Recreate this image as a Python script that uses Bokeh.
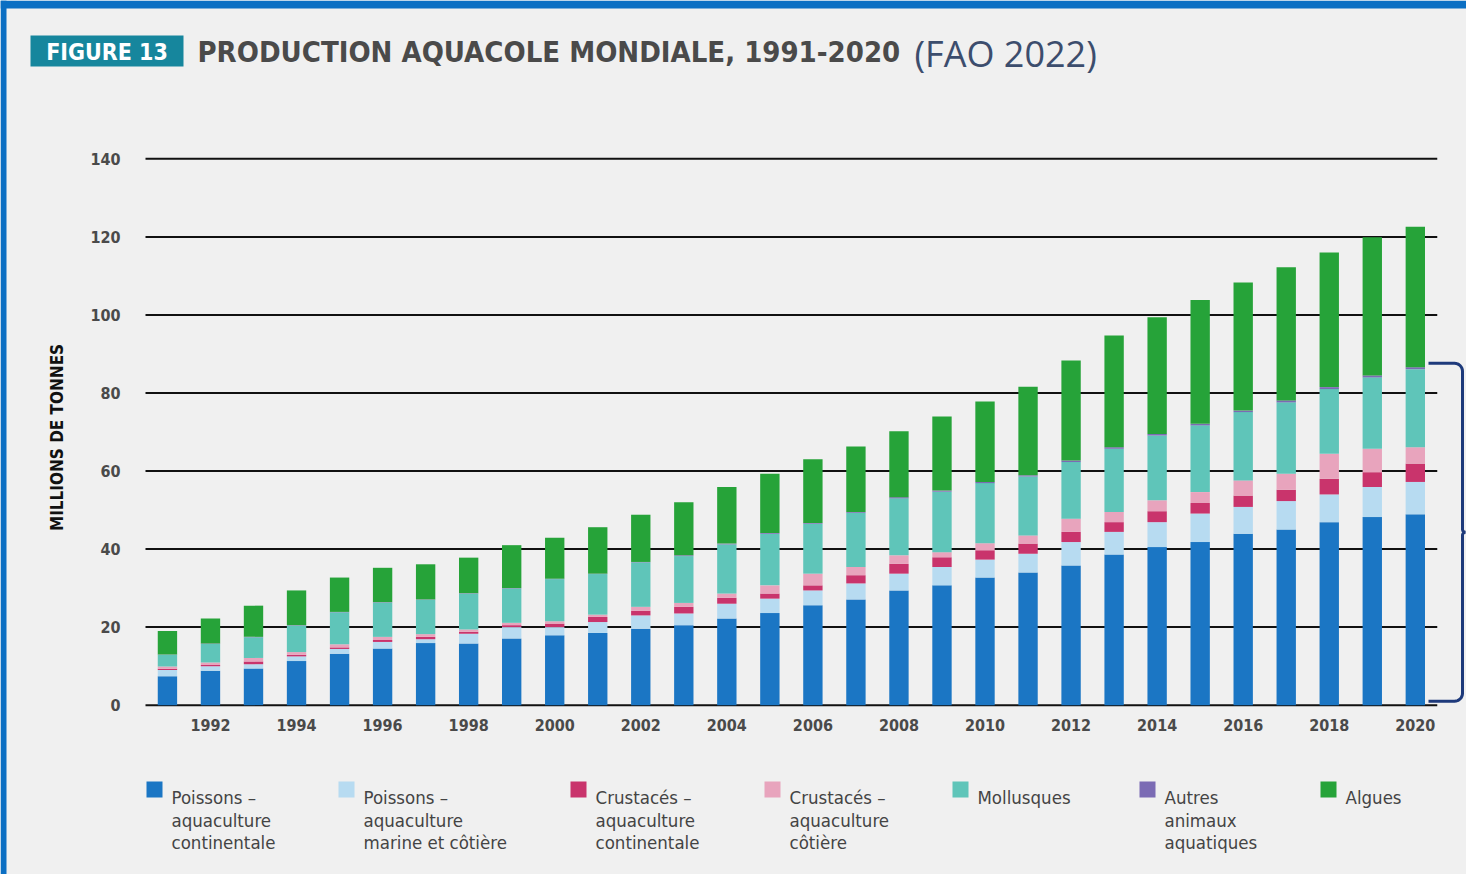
import math
from bokeh.plotting import figure
from bokeh.models import ColumnDataSource, FixedTicker, Range1d
from bokeh.core.properties import value
from bokeh.embed import file_html
from bokeh.resources import INLINE

# ---------------- data (millions de tonnes) ----------------
years = list(range(1991, 2021))
poissons_continentale = [7.4, 8.8, 9.4, 11.3, 13.2, 14.5, 15.9, 15.8, 17.1, 17.9, 18.5, 19.6, 20.5, 22.2, 23.6,
                         25.6, 27.1, 29.4, 30.7, 32.7, 34.0, 35.8, 38.6, 40.5, 41.8, 43.9, 45.0, 46.9, 48.2, 48.9]
poissons_marine = [1.6, 1.2, 1.1, 1.2, 1.2, 1.7, 1.0, 2.5, 2.9, 2.1, 2.8, 3.4, 3.0, 3.8, 3.7,
                   3.8, 4.1, 4.3, 4.7, 4.6, 4.8, 6.0, 5.8, 6.4, 7.3, 6.9, 7.3, 7.1, 7.7, 8.3]
crustaces_continentale = [0.3, 0.3, 0.7, 0.4, 0.4, 0.5, 0.6, 0.5, 0.5, 0.9, 1.3, 1.2, 1.7, 1.5, 1.3,
                          1.3, 2.1, 2.5, 2.5, 2.4, 2.6, 2.6, 2.5, 2.8, 2.7, 2.9, 2.9, 4.0, 3.8, 4.7]
crustaces_cotiere = [0.6, 0.6, 0.9, 0.7, 0.8, 0.8, 0.7, 0.6, 0.6, 0.6, 0.6, 1.0, 1.0, 1.1, 2.1,
                     3.0, 2.1, 2.2, 1.3, 1.8, 2.1, 3.4, 2.6, 2.8, 2.8, 3.9, 4.1, 6.4, 6.0, 4.2]
mollusques = [3.0, 4.8, 5.3, 6.8, 8.2, 8.8, 8.8, 9.2, 8.8, 10.8, 10.4, 11.4, 12.0, 12.6, 13.2,
              12.8, 13.9, 14.6, 15.5, 15.4, 15.1, 14.5, 16.2, 16.6, 17.1, 17.5, 18.3, 16.6, 18.3, 20.0]
autres_animaux = [0.1, 0.1, 0.1, 0.1, 0.1, 0.1, 0.1, 0.1, 0.1, 0.1, 0.1, 0.1, 0.2, 0.2, 0.2,
                  0.2, 0.2, 0.3, 0.3, 0.3, 0.3, 0.4, 0.4, 0.4, 0.4, 0.4, 0.5, 0.5, 0.5, 0.5]
algues = [6.0, 6.4, 8.0, 8.9, 8.8, 8.8, 9.0, 9.1, 11.0, 10.5, 11.9, 12.1, 13.6, 14.5, 15.2,
          16.3, 16.8, 16.9, 19.0, 20.6, 22.7, 25.6, 28.6, 29.9, 31.7, 32.8, 34.1, 34.5, 35.4, 36.0]

series_keys = ["pc", "pm", "cc", "ct", "mo", "au", "al"]
series_labels = [
    ["Poissons –", "aquaculture", "continentale"],
    ["Poissons –", "aquaculture", "marine et côtière"],
    ["Crustacés –", "aquaculture", "continentale"],
    ["Crustacés –", "aquaculture", "côtière"],
    ["Mollusques"],
    ["Autres", "animaux", "aquatiques"],
    ["Algues"],
]
colors = ["#1b76c4", "#b7dbf1", "#c9346c", "#e8a4bd", "#5fc5b9", "#7b6bb4", "#26a339"]
y_ticks = [0, 20, 40, 60, 80, 100, 120, 140]
x_ticks = list(range(1992, 2021, 2))
title_main = "PRODUCTION AQUACOLE MONDIALE, 1991-2020"
title_tag = "FIGURE 13"
title_src = "(FAO 2022)"
y_title = "MILLIONS DE TONNES"

src = ColumnDataSource(dict(year=years, pc=poissons_continentale, pm=poissons_marine,
                            cc=crustaces_continentale, ct=crustaces_cotiere, mo=mollusques,
                            au=autres_animaux, al=algues))

W, H = 1466, 874
BG = "#f0f0f0"
FONT = "DejaVu Sans Condensed"


# page-pixel helpers (layout only)
def X(px):
    return 1990.49 + (px - 145.0) / 43.03


def Y(py):
    return (704.66 - py) / 3.9023


p = figure(width=W, height=H, x_range=Range1d(X(0), X(W)), y_range=Range1d(Y(H), Y(0)),
           output_backend="svg", toolbar_location=None,
           min_border_left=0, min_border_right=0, min_border_top=0, min_border_bottom=0,
           background_fill_color=BG, border_fill_color=BG, outline_line_color=None)
p.grid.visible = False

# blue frame bands of the slide
p.quad(left=[X(0), X(0)], right=[X(W), X(6)], bottom=[Y(8), Y(H)], top=[Y(0), Y(0)],
       fill_color="#0b6fc3", line_color=None)

# horizontal gridlines, spanning the bar area only
x_start = years[0] - 0.51
x_end = years[-1] + 0.51
p.segment(x0=[x_start] * len(y_ticks), x1=[x_end] * len(y_ticks), y0=y_ticks, y1=y_ticks,
          line_color="#111111", line_width=2)

p.vbar_stack(series_keys, x="year", width=0.45, source=src, fill_color=colors, line_color=None)

# axes, pinned inside the full-page frame
p.yaxis.fixed_location = x_start
p.xaxis.fixed_location = -0.6
p.yaxis.ticker = FixedTicker(ticks=y_ticks)
p.xaxis.ticker = FixedTicker(ticks=x_ticks)
for ax in (p.xaxis, p.yaxis):
    ax.axis_line_color = None
    ax.major_tick_line_color = None
    ax.minor_tick_line_color = None
    ax.major_label_text_font = FONT
    ax.major_label_text_font_style = "bold"
    ax.major_label_text_font_size = "16px"
    ax.major_label_text_color = "#4a4a4a"
p.xaxis.major_label_standoff = 5
p.yaxis.major_label_standoff = 19
p.yaxis.axis_label = y_title
p.yaxis.axis_label_text_font = FONT
p.yaxis.axis_label_text_font_style = "bold"
p.yaxis.axis_label_text_font_size = "17px"
p.yaxis.axis_label_text_color = "#111111"
p.yaxis.axis_label_standoff = 20

# title
p.quad(left=[X(30)], right=[X(183)], bottom=[Y(66)], top=[Y(35)], fill_color="#16869d", line_color=None)
p.text(x=[X(106.5)], y=[Y(51)], text=[title_tag], text_color="white", text_font=value(FONT),
       text_font_style="bold", text_font_size=value("23px"), text_align="center", text_baseline="middle")
p.text(x=[X(197)], y=[Y(51)], text=[title_main], text_color="#4a4a4a", text_font=value(FONT),
       text_font_style="bold", text_font_size=value("29px"), text_baseline="middle")
p.text(x=[X(914)], y=[Y(53)], text=[title_src], text_color="#3c4d6d", text_font=value("Open Sans"),
       text_font_size=value("36px"), text_baseline="middle")

# legend
sq_x = [146, 338, 570, 764, 952, 1139, 1320]
p.quad(left=[X(s) for s in sq_x], right=[X(s + 16) for s in sq_x], bottom=[Y(797)] * len(sq_x),
       top=[Y(781)] * len(sq_x), fill_color=colors, line_color=None)
lx, ly, lt = [], [], []
for i in range(len(series_keys)):
    for j, line in enumerate(series_labels[i]):
        lx.append(X(sq_x[i] + 25))
        ly.append(Y(797 + 22.5 * j))
        lt.append(line)
p.text(x=lx, y=ly, text=lt, text_color="#444444", text_font=value(FONT),
       text_font_size=value("18.5px"), text_baseline="alphabetic")

# bracket around the animal production of the last year
animals_last = (poissons_continentale[-1] + poissons_marine[-1] + crustaces_continentale[-1]
                + crustaces_cotiere[-1] + mollusques[-1] + autres_animaux[-1])
ty, by = 704.66 - (animals_last + 1.0) * 3.9023, 704.66 - 1.0 * 3.9023
my = (ty + by) / 2
xa, xv, r, r2 = 1428, 1462, 8, 3
pts = [(xa, ty)]
for k in range(9):
    a = math.radians(90 - 90 * k / 8)
    pts.append((xv - r + r * math.cos(a), ty + r - r * math.sin(a)))
for k in range(9):
    a = math.radians(180 + 90 * k / 8)
    pts.append((xv + r2 + r2 * math.cos(a), my - r2 - r2 * math.sin(a)))
for k in range(9):
    a = math.radians(90 + 90 * k / 8)
    pts.append((xv + r2 + r2 * math.cos(a), my + r2 - r2 * math.sin(a)))
for k in range(9):
    a = math.radians(0 - 90 * k / 8)
    pts.append((xv - r + r * math.cos(a), by - r - r * math.sin(a)))
pts.append((xa, by))
p.line([X(q[0]) for q in pts], [Y(q[1]) for q in pts], line_color="#1e3a7b", line_width=3)

open("out.html", "w").write(file_html(p, INLINE))
